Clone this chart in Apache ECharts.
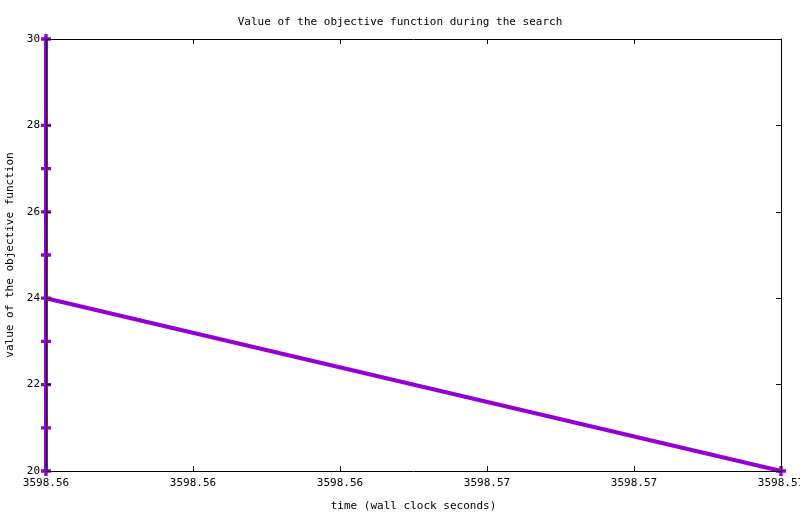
<!DOCTYPE html>
<html>
<head>
<meta charset="utf-8">
<script src="https://cdn.jsdelivr.net/npm/echarts@6/dist/echarts.min.js"></script>
<style type="text/css">
body{margin:0; background:#fff}
#chart{width:800px; height:514px}
</style>
</head>
<body>
<div id="chart"></div>
<script type="text/javascript">
// time (wall clock seconds) and objective values, in search order
var times = [3598.560, 3598.560, 3598.560, 3598.560, 3598.560, 3598.560, 3598.560, 3598.560, 3598.560, 3598.560, 3598.570];
var values = [30, 28, 27, 26, 25, 23, 22, 21, 20, 24, 20];
var xMin = 3598.56, xMax = 3598.57, xStep = 0.002;
var yMin = 20, yMax = 30, yStep = 2;

var font = 'DejaVu Sans Mono';
var chart = echarts.init(document.getElementById('chart'));

var points = times.map(function (t, i) { return [t, values[i]]; });

var axisBase = {
    axisLine: {show: true, onZero: false, lineStyle: {color: '#000', width: 1}},
    axisTick: {show: true, inside: true, length: 5, lineStyle: {color: '#000'}},
    splitLine: {show: false},
    z: 3
};

option = {
    backgroundColor: '#fff',
    animation: false,
    title: {
        text: 'Value of the objective function during the search',
        left: 'center',
        top: 12,
        textStyle: {fontFamily: font, fontSize: 11, fontWeight: 'normal', color: '#000'}
    },
    grid: {left: 46, right: 19, top: 39, bottom: 43, containLabel: false, outerBoundsMode: 'none'},
    xAxis: [
        Object.assign({}, axisBase, {
            type: 'value', position: 'bottom',
            min: xMin, max: xMax, interval: xStep,
            name: 'time (wall clock seconds)', nameLocation: 'middle', nameGap: 30,
            nameTextStyle: {fontFamily: font, fontSize: 11, color: '#000'},
            axisLabel: {
                fontFamily: font, fontSize: 11, color: '#000', margin: 7,
                formatter: function (v) { return v.toFixed(2); }
            }
        }),
        Object.assign({}, axisBase, {
            type: 'value', position: 'top',
            min: xMin, max: xMax, interval: xStep,
            axisLabel: {show: false}
        })
    ],
    yAxis: [
        Object.assign({}, axisBase, {
            type: 'value', position: 'left',
            min: yMin, max: yMax, interval: yStep,
            name: 'value of the objective function', nameLocation: 'middle', nameGap: 30,
            nameTextStyle: {fontFamily: font, fontSize: 11, color: '#000'},
            axisLabel: {fontFamily: font, fontSize: 11, color: '#000', margin: 6}
        }),
        Object.assign({}, axisBase, {
            type: 'value', position: 'right',
            min: yMin, max: yMax, interval: yStep,
            axisLabel: {show: false}
        })
    ],
    series: [
        {
            type: 'line',
            data: points,
            clip: false,
            symbol: 'path://M0,3h9v3h-9z M3,0h3v9h-3z',
            symbolSize: 10,
            showAllSymbol: true,
            itemStyle: {color: '#9400d3'},
            lineStyle: {color: '#9400d3', width: 4},
            z: 2
        }
    ]
};
chart.setOption(option, true);
</script>
</body>
</html>
